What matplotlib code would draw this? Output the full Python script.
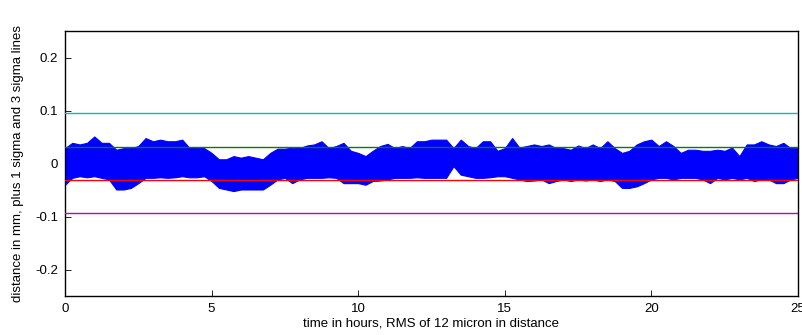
import matplotlib
matplotlib.use("Agg")
import matplotlib.pyplot as plt
import numpy as np

plt.rcParams['font.family'] = ['Liberation Sans', 'DejaVu Sans']

# time grid (hours) at which the band envelope was read
time_h = [i * 0.25 for i in range(101)]

upper_mm = [
    0.029, 0.039, 0.036, 0.039, 0.051, 0.039, 0.039, 0.026, 0.029, 0.029,
    0.033, 0.048, 0.042, 0.045, 0.042, 0.042, 0.045,
    0.029, 0.030, 0.029, 0.020, 0.008, 0.008, 0.014, 0.011, 0.014, 0.011,
    0.008, 0.020, 0.028, 0.028, 0.030, 0.029, 0.034,
    0.036, 0.042, 0.029, 0.033, 0.039, 0.024, 0.020, 0.014, 0.024, 0.033,
    0.037, 0.029, 0.033, 0.029, 0.042, 0.042, 0.045,
    0.045, 0.045, 0.029, 0.045, 0.033, 0.029, 0.042, 0.042, 0.024, 0.029,
    0.048, 0.030, 0.033, 0.036, 0.033, 0.036,
    0.029, 0.029, 0.026, 0.034, 0.029, 0.036, 0.029, 0.042, 0.029, 0.020,
    0.024, 0.036, 0.042, 0.045, 0.033, 0.042, 0.033,
    0.020, 0.026, 0.026, 0.024, 0.024, 0.026, 0.024, 0.030, 0.014, 0.036,
    0.036, 0.042, 0.036, 0.033, 0.039, 0.029, 0.029,
]

lower_mm = [
    -0.040, -0.027, -0.024, -0.026, -0.024, -0.027, -0.030, -0.049, -0.049, -0.046,
    -0.037, -0.027, -0.027, -0.026, -0.027, -0.026, -0.024,
    -0.026, -0.026, -0.024, -0.033, -0.046, -0.049, -0.052, -0.049, -0.049, -0.049,
    -0.049, -0.040, -0.030, -0.027, -0.037, -0.030, -0.027,
    -0.027, -0.027, -0.026, -0.027, -0.037, -0.037, -0.037, -0.040, -0.033, -0.032,
    -0.030, -0.027, -0.027, -0.027, -0.026, -0.027, -0.027,
    -0.027, -0.027, -0.005, -0.021, -0.024, -0.027, -0.027, -0.026, -0.024, -0.024,
    -0.027, -0.030, -0.033, -0.032, -0.030, -0.037,
    -0.033, -0.030, -0.033, -0.030, -0.032, -0.030, -0.033, -0.030, -0.033, -0.046,
    -0.046, -0.043, -0.037, -0.030, -0.027, -0.027, -0.030,
    -0.027, -0.027, -0.027, -0.030, -0.037, -0.027, -0.030, -0.027, -0.030, -0.027,
    -0.033, -0.030, -0.030, -0.037, -0.037, -0.030, -0.027,
]

# mean +/- 1 sigma and 3 sigma reference levels (mm)
sigma_levels = [0.096, 0.032, -0.031, -0.094]
sigma_colors = ['#00BFBF', '#008000', '#FF0000', '#BF00BF']

xticks = [0, 5, 10, 15, 20, 25]
yticks = [-0.2, -0.1, 0, 0.1, 0.2]
ytick_labels = ['-0.2', '-0.1', '0', '0.1', '0.2']

fig = plt.figure(figsize=(8.02, 3.35), dpi=100)
ax = fig.add_axes([0.081, 0.1164, 0.914, 0.791])

t = np.array(time_h)
ax.fill_between(t, lower_mm, upper_mm, color='#0000FF', linewidth=0.8,
                edgecolor='#0000FF', zorder=2)

for lvl, c in zip(sigma_levels, sigma_colors):
    ax.axhline(lvl, color=c, linewidth=1.0, zorder=3)

ax.set_xlim(0, 25)
ax.set_ylim(-0.25, 0.25)
ax.set_xticks(xticks)
ax.set_xticklabels([str(v) for v in xticks])
ax.set_yticks(yticks)
ax.set_yticklabels(ytick_labels)
ax.tick_params(direction='in', length=4, width=0.6, labelsize=9.5, pad=5,
               top=False, right=False)
for s in ax.spines.values():
    s.set_linewidth(1.0)

ax.set_xlabel('time in hours, RMS of 12 micron in distance', fontsize=9.5, labelpad=2)
ax.set_ylabel('distance in mm, plus 1 sigma and 3 sigma lines', fontsize=9.5, labelpad=8)

fig.savefig('out.png', dpi=100)
